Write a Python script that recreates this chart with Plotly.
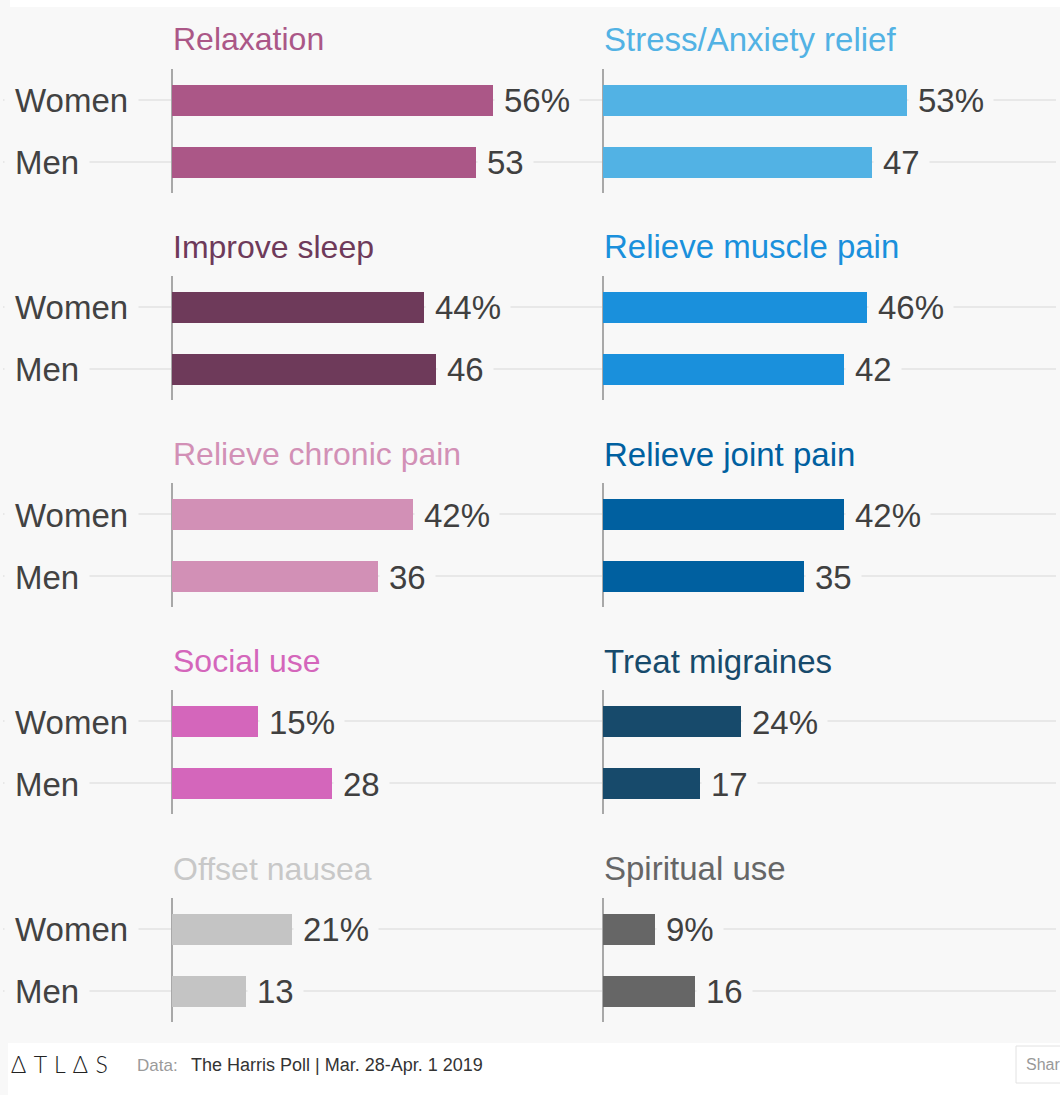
import plotly.graph_objects as go

# ---------------- data ----------------
left_titles = ["Relaxation", "Improve sleep", "Relieve chronic pain", "Social use", "Offset nausea"]
left_women = [56, 44, 42, 15, 21]
left_men = [53, 46, 36, 28, 13]
left_colors = ["#ab5787", "#6e3a5a", "#d290b6", "#d466bb", "#c4c4c4"]
left_title_colors = ["#ab5787", "#6e3a5a", "#d290b6", "#d466bb", "#c8c8c8"]

right_titles = ["Stress/Anxiety relief", "Relieve muscle pain", "Relieve joint pain", "Treat migraines", "Spiritual use"]
right_women = [53, 46, 42, 24, 9]
right_men = [47, 42, 35, 17, 16]
right_colors = ["#52b2e4", "#1a90dc", "#0060a0", "#174a6b", "#666666"]
right_title_colors = ["#52b2e4", "#1a90dc", "#0060a0", "#174a6b", "#666666"]

groups = ["Women", "Men"]
source_label = "Data:"
source_text = "The Harris Poll | Mar. 28-Apr. 1 2019"

# ---------------- layout geometry (pixels) ----------------
W, H = 1060, 1095
K = 5.73            # pixels per percentage point
ROW0 = 99.5         # centre of first "Women" bar
PERIOD = 207.25     # vertical distance between panels
STEP = 62           # distance Women -> Men
AX_LEFT, AX_RIGHT = 172, 603   # zero positions of the two columns
GRID_L, SPLIT, GRID_R = 3, 595, 1056
FONT = "Liberation Sans, Arial, Helvetica, sans-serif"
BG = "#f8f8f8"


def px(x):
    return x / W


def py(y):
    return 1 - y / H


fig = go.Figure()
layout = {}
annotations = []

columns = [
    (left_titles, left_women, left_men, left_colors, left_title_colors, AX_LEFT, GRID_L, SPLIT),
    (right_titles, right_women, right_men, right_colors, right_title_colors, AX_RIGHT, SPLIT, GRID_R),
]

n = 0
for c, (titles, women, men, colors, tcolors, zero_px, d0, d1) in enumerate(columns):
    for r in range(len(titles)):
        n += 1
        xa = "x" if n == 1 else f"x{n}"
        ya = "y" if n == 1 else f"y{n}"
        xkey = "xaxis" if n == 1 else f"xaxis{n}"
        ykey = "yaxis" if n == 1 else f"yaxis{n}"
        yc = ROW0 + r * PERIOD
        top = yc - STEP / 2
        bot = yc + STEP + STEP / 2

        vals = [women[r], men[r]]
        fig.add_trace(go.Bar(
            x=vals, y=[0, 1], orientation="h",
            marker=dict(color=colors[r], line=dict(width=0)),
            width=0.5, xaxis=xa, yaxis=ya, hoverinfo="skip", showlegend=False,
        ))

        layout[xkey] = dict(
            domain=[px(d0), px(d1)],
            range=[(d0 - zero_px) / K, (d1 - zero_px) / K],
            anchor=ya, showgrid=False, showticklabels=False, ticks="",
            zeroline=True, zerolinecolor="#a8a8a8", zerolinewidth=1.5,
            showline=False, fixedrange=True,
        )
        layout[ykey] = dict(
            domain=[py(bot), py(top)],
            range=[1.5, -0.5], anchor=xa,
            tickvals=[0, 1], showticklabels=False, ticks="",
            showgrid=True, gridcolor="#e8e8e8", gridwidth=1.5,
            zeroline=False, showline=False, fixedrange=True,
        )

        # panel title
        annotations.append(dict(
            xref="paper", yref="paper", x=px(zero_px - 1), y=py(yc - 60),
            xanchor="left", yanchor="middle",
            text=titles[r], showarrow=False,
            font=dict(family=FONT, size=32 if c == 0 else 33, color=tcolors[r]),
        ))
        # value labels
        for i, v in enumerate(vals):
            label = f"{v}%" if i == 0 else f"{v}"
            annotations.append(dict(
                xref=xa, yref=ya, x=v, y=i, xanchor="left", yanchor="middle",
                text=label, showarrow=False, xshift=1, yshift=-1,
                bgcolor=BG, borderpad=9,
                font=dict(family=FONT, size=33, color="#404040"),
            ))
        # group labels (left column only)
        if c == 0:
            for i, g in enumerate(groups):
                annotations.append(dict(
                    xref="paper", yref=ya, x=px(14 - 10), y=i,
                    xanchor="left", yanchor="middle",
                    text=g, showarrow=False, bgcolor=BG, borderpad=10, yshift=-1,
                    font=dict(family=FONT, size=33, color="#424242"),
                ))

# footer texts
annotations.append(dict(
    xref="paper", yref="paper", x=px(9), y=py(1064), xanchor="left", yanchor="middle",
    text="Δ \u200aT \u200aL \u200aΔ \u200aS", showarrow=False,
    font=dict(family="Lato, DejaVu Sans, sans-serif", size=23, color="#222222", weight=300),
))
annotations.append(dict(
    xref="paper", yref="paper", x=px(135), y=py(1065), xanchor="left", yanchor="middle",
    text=source_label, showarrow=False,
    font=dict(family=FONT, size=17, color="#9a9a9a"),
))
annotations.append(dict(
    xref="paper", yref="paper", x=px(189), y=py(1065), xanchor="left", yanchor="middle",
    text=source_text, showarrow=False,
    font=dict(family=FONT, size=18, color="#333333"),
))
annotations.append(dict(
    xref="paper", yref="paper", x=px(1024), y=py(1064), xanchor="left", yanchor="middle",
    text="Shar", showarrow=False,
    font=dict(family=FONT, size=16, color="#999999"),
))

shapes = [
    # white strip at the top
    dict(type="rect", xref="paper", yref="paper", x0=px(10), x1=px(1065), y0=py(7), y1=py(-5),
         fillcolor="white", line=dict(width=0), layer="below"),
    # white footer
    dict(type="rect", xref="paper", yref="paper", x0=px(8), x1=px(1065), y0=py(1100), y1=py(1043),
         fillcolor="white", line=dict(width=0), layer="below"),
    # share button box
    dict(type="rect", xref="paper", yref="paper", x0=px(1016), x1=px(1080), y0=py(1083), y1=py(1046),
         fillcolor="white", line=dict(width=1, color="#e2e2e2"), layer="below"),
]

fig.update_layout(
    width=W, height=H,
    margin=dict(l=0, r=0, t=0, b=0),
    paper_bgcolor=BG, plot_bgcolor="rgba(0,0,0,0)",
    showlegend=False, bargap=0,
    annotations=annotations, shapes=shapes,
    **layout,
)

fig.write_html("out.html", config={"displayModeBar": False})
